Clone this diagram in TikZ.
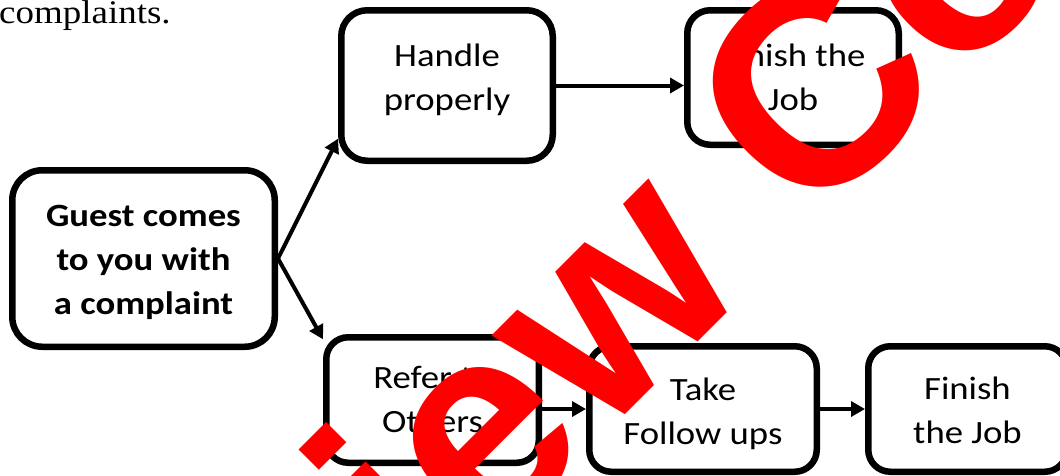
\documentclass[tikz,border=0pt]{standalone}
\usepackage{fontspec}
\usetikzlibrary{arrows.meta}
\newfontfamily\carlito[FakeStretch=1.13]{Carlito}
\newfontfamily\serifcmb[FakeStretch=1.12]{Liberation Serif}
\newfontfamily\wmfamily{Liberation Sans}
\newcommand\mlines[1]{\begin{tabular}[t]{@{}c@{}}#1\end{tabular}}
\begin{document}
\begin{tikzpicture}[x=1pt,y=-1pt,
  box/.style={draw=black, line width=6.5pt, fill=white, inner sep=0pt},
  txt/.style={font=\carlito\fontsize{32.5}{44.3}\selectfont, inner sep=0pt, anchor=base},
  conn/.style={line width=4pt, -{Triangle[length=14pt,width=15pt]}},
  wmark/.style={anchor=base west, rotate=45, inner sep=0pt, text=red,
    font=\wmfamily\bfseries\fontsize{284}{284}\selectfont},
]
\useasboundingbox (0,0) rectangle (1060,475);

% top-left running text
\node[anchor=base west, inner sep=0pt, font=\serifcmb\fontsize{33}{40}\selectfont] (prev) at (-1,23.3) {complaints.};

% boxes
\node[box, minimum width=262.5pt, minimum height=176.5pt, rounded corners=30pt] (guest) at (143.5,258.5) {};
\node[box, minimum width=211.5pt, minimum height=150.5pt, rounded corners=26pt] (handle) at (447,85.5) {};
\node[box, minimum width=211.5pt, minimum height=134.5pt, rounded corners=23pt] (finishA) at (793,77.5) {};
\node[box, minimum width=212.5pt, minimum height=125.5pt, rounded corners=22pt] (refer) at (432.5,400) {};
\node[box, minimum width=227.5pt, minimum height=125.5pt, rounded corners=22pt] (take) at (703,409) {};
\node[box, minimum width=198.5pt, minimum height=125.5pt, rounded corners=22pt] (finishB) at (967.5,409) {};

% texts
\node[txt] (guestT) at (143.5,226) {\bfseries\mlines{Guest comes\\to you with\\a complaint}};
\node[txt] (handleT) at (447,66) {\mlines{Handle\\properly}};
\node[txt] (finishAT) at (793,66) {\mlines{Finish the\\Job}};
\node[txt] (referT) at (432.5,388.3) {\mlines{Refer to\\Others}};
\node[txt] (takeT) at (703,400.6) {\mlines{Take\\Follow ups}};
\node[txt] (finishBT) at (967.5,399.5) {\mlines{Finish\\the Job}};

% connectors
\draw[conn] (guest.east) -- (handle.206);
\draw[conn] (guest.east) -- (refer.151);
\draw[conn] (handle.east) -- (handle.east -| finishA.west);
\draw[conn] (take.west -| refer.east) -- (take.west);
\draw[conn] (take.east) -- (finishB.west);

% watermark
\node[wmark] (wm) at (-4.9,1044.9) {Preview Copy};
\end{tikzpicture}
\end{document}
